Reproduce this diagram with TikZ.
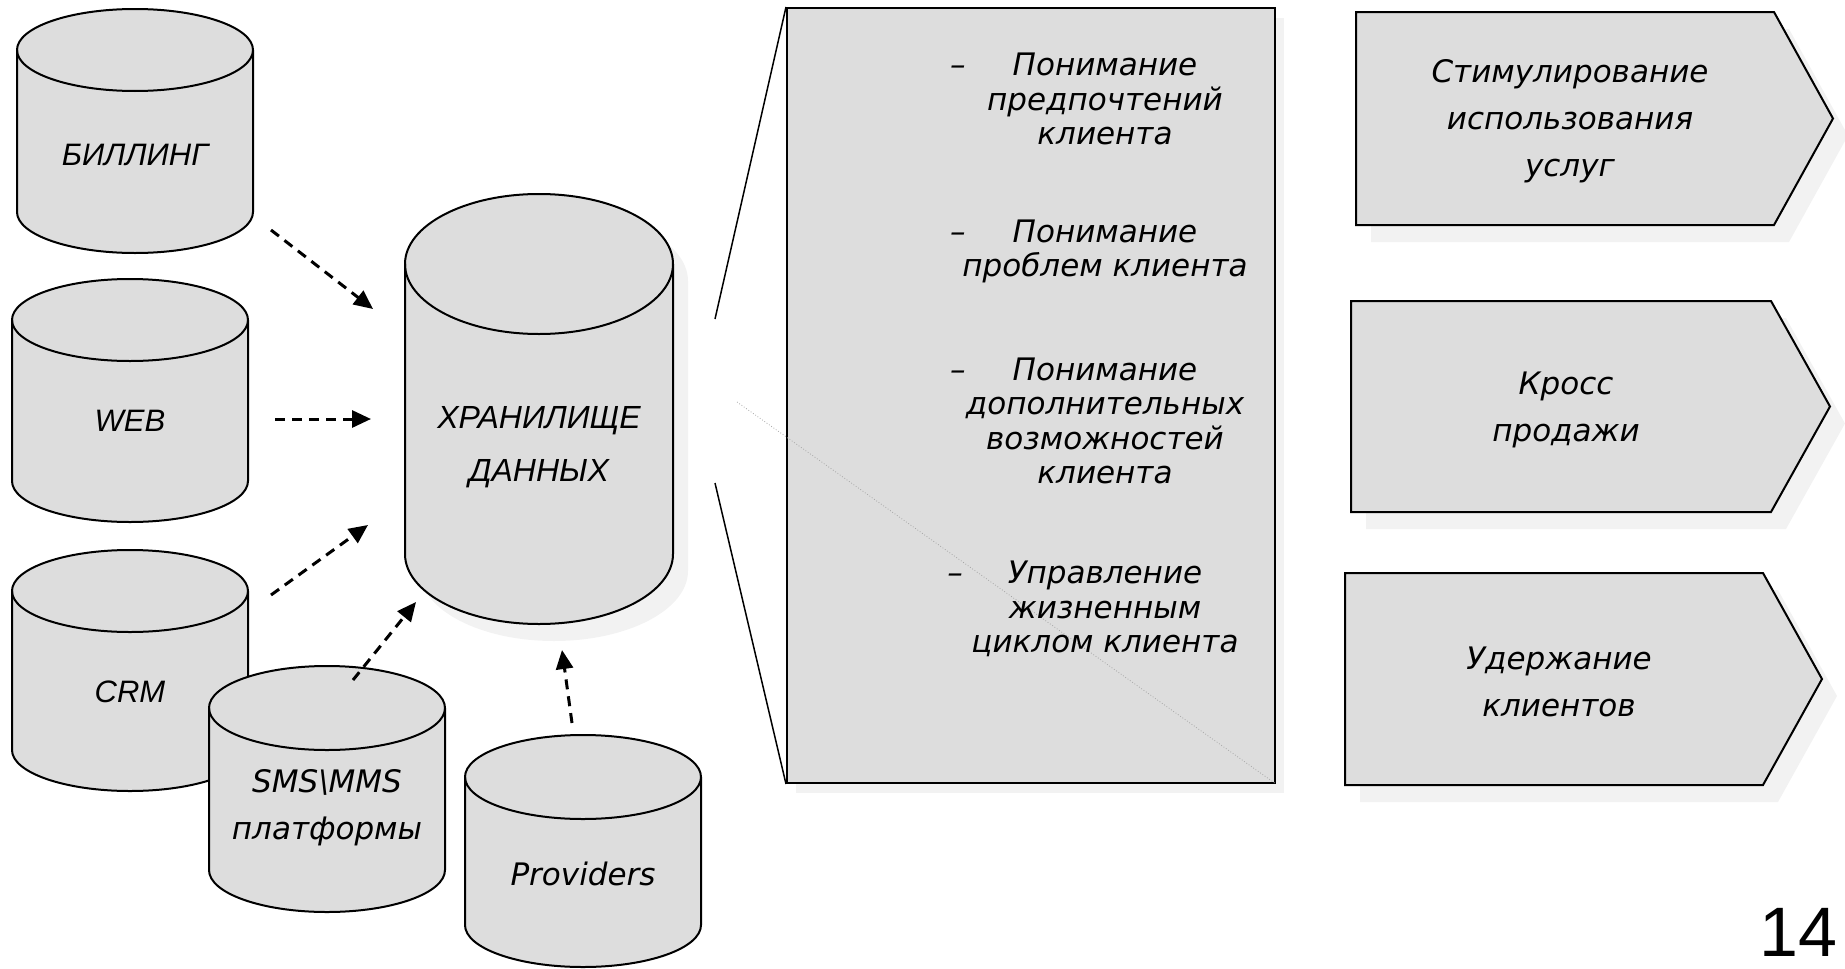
\documentclass[tikz,border=0pt]{standalone}
\usepackage{fontspec}
\usepackage{tikz}
\usetikzlibrary{arrows.meta, shadows}
\newfontfamily\verd{DejaVu Sans}[ItalicFont={DejaVu Sans Oblique}]
\newfontfamily\arial{Liberation Sans}
\definecolor{drumgray}{RGB}{221,221,221}
\definecolor{shadegray}{RGB}{242,242,242}

\tikzset{
  outline/.style={draw=black, line width=2pt, fill=drumgray},
  drumbody/.style={outline},
  castshadow/.style={drop shadow={shadow xshift=15pt, shadow yshift=-17pt, opacity=1, fill=shadegray}},
  lowshadow/.style={drop shadow={shadow xshift=9pt, shadow yshift=-10pt, opacity=1, fill=shadegray}},
  drumlabel/.style={align=center, inner sep=0pt},
  textblock/.style={font=\verd\itshape\fontsize{31}{34.5}\selectfont, align=center, inner sep=0pt},
  chevlabel/.style={font=\verd\itshape\fontsize{31}{47}\selectfont, align=center, inner sep=0pt},
  flow/.style={line width=3pt, dash pattern=on 10pt off 7pt, -{Triangle[length=19pt,width=17pt]}}
}

% drum: [label font], name, centre x, top, half width, height, cap radius, label y, label
\newcommand{\drum}[9][\verd]{%
  \filldraw[drumbody] (#3-#5,#4+#7) -- (#3-#5,#4+#6-#7)
    arc[start angle=180, end angle=360, x radius=#5pt, y radius=#7pt]
    -- (#3+#5,#4+#7)
    arc[start angle=0, end angle=180, x radius=#5pt, y radius=#7pt] -- cycle;
  \draw[line width=2pt] (#3-#5,#4+#7)
    arc[start angle=180, end angle=360, x radius=#5pt, y radius=#7pt];
  \node[drumlabel, font=\itshape\fontsize{31}{47}#1\selectfont] (#2) at (#3,#8) {#9};
}

% chevron: name, left, top, bottom, notch x, tip x, label
\newcommand{\chevron}[7]{%
  \filldraw[outline, castshadow] (#2,#3) -- (#5,#3) -- (#6,{(#3+#4)/2})
    -- (#5,#4) -- (#2,#4) -- cycle;
  \node[chevlabel] (#1) at ({(#2+#5)/2+5},{(#3+#4)/2+3}) {#7};
}

\begin{document}
\begin{tikzpicture}[x=1pt, y=-1pt]
    \useasboundingbox (0,0) rectangle (1845,969);

    % sources
    \drum[\arial]{bill}{135}{9}{118}{244}{41}{155}{БИЛЛИНГ}
    \drum[\arial]{web}{130}{279}{118}{243}{41}{421}{WEB}
    \drum[\arial]{crm}{130}{550}{118}{241}{41}{692}{CRM}
    \drum{sms}{327}{666}{118}{246}{42}{808}{SMS\textbackslash MMS\\платформы}
    \drum{prov}{583}{735}{118}{232}{42}{874}{Providers}

    % warehouse
    \begin{scope}[drumbody/.append style={castshadow}]
      \drum[\arial\fontsize{32}{53}]{dwh}{539}{194}{134}{430}{70}{447}{ХРАНИЛИЩЕ\\ДАННЫХ}
    \end{scope}

    % feeds into the warehouse
    \coordinate (bill-out) at (271,230);  \coordinate (dwh-in-a) at (373,309);
    \coordinate (web-out)  at (275,419);  \coordinate (dwh-in-b) at (371,419);
    \coordinate (crm-out)  at (271,595);  \coordinate (dwh-in-c) at (368,525);
    \coordinate (sms-out)  at (353,680);  \coordinate (dwh-in-d) at (416,602);
    \coordinate (prov-out) at (572,723);  \coordinate (dwh-in-e) at (562,650);
    \draw[flow] (bill-out) -- (dwh-in-a);
    \draw[flow] (web-out) -- (dwh-in-b);
    \draw[flow] (crm-out) -- (dwh-in-c);
    \draw[flow] (sms-out) -- (dwh-in-d);
    \draw[flow] (prov-out) -- (dwh-in-e);

    % what the warehouse gives
    \node[outline, lowshadow, minimum width=488pt, minimum height=775pt, inner sep=0pt] (needs) at (1031,395.5) {};
    \coordinate (fan-top) at (715,319);
    \coordinate (fan-bot) at (715,483);
    \draw[line width=1.5pt] (needs.north west) -- (fan-top);
    \draw[line width=1.5pt] (fan-bot) -- (needs.south west);
    \coordinate (trace) at (737,402);
    \draw[gray!70, line width=0.8pt, dotted] (trace) -- (needs.south east);

    \node[textblock] (pref) at (1105,99) {\llap{–\hspace{47pt}}Понимание\\предпочтений\\клиента};
    \node[textblock] (prob) at (1105,251.5) {\llap{–\hspace{47pt}}Понимание\\проблем клиента};
    \node[textblock] (opp) at (1105,421) {\llap{–\hspace{47pt}}Понимание\\дополнительных\\возможностей\\клиента};
    \node[textblock] (life) at (1105,609) {\llap{–\hspace{45pt}}Управление\\жизненным\\циклом клиента};

    % results
    \chevron{usage}{1356}{12}{225}{1774}{1833}{Стимулирование\\использования\\услуг}
    \chevron{cross}{1351}{301}{512}{1771}{1830}{Кросс\\продажи}
    \chevron{keep}{1345}{573}{785}{1763}{1822}{Удержание\\клиентов}

    \node[font=\arial\fontsize{70}{70}\selectfont, inner sep=0pt] (page) at (1798,932) {14};
\end{tikzpicture}
\end{document}
